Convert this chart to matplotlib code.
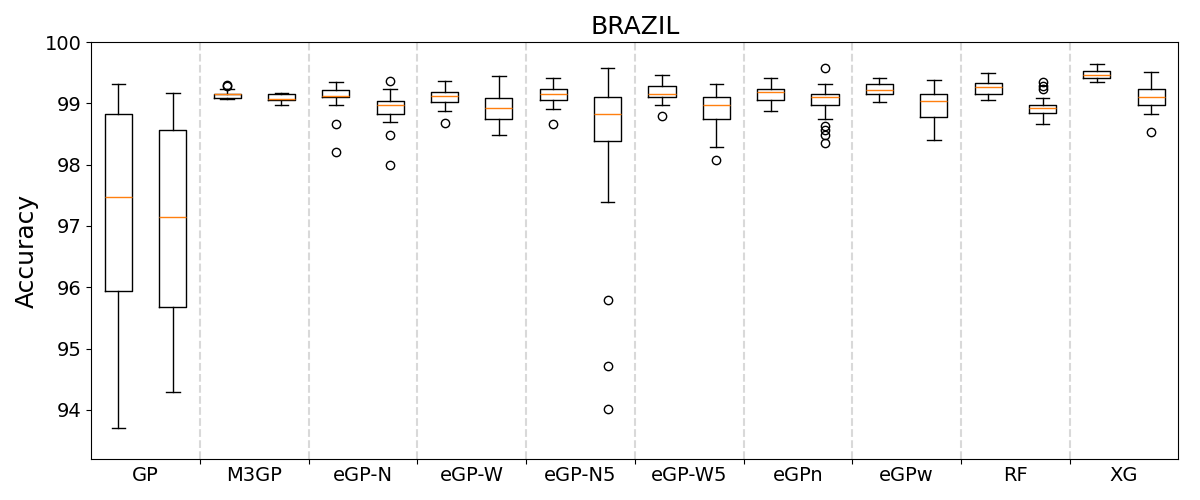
import matplotlib
matplotlib.use('Agg')
import matplotlib.pyplot as plt

# Grupos (dois boxplots por método)
methods = ['GP', 'M3GP', 'eGP-N', 'eGP-W', 'eGP-N5', 'eGP-W5', 'eGPn', 'eGPw', 'RF', 'XG']

# Estatísticas, na ordem dos 20 boxplots
whislo = [93.70, 94.30, 99.07, 98.97, 98.98, 98.69, 98.87, 98.48, 98.90, 97.39,
          98.97, 98.28, 98.87, 98.75, 99.02, 98.41, 99.05, 98.67, 99.34, 98.82]
q1 = [95.94, 95.68, 99.09, 99.05, 99.11, 98.83, 99.02, 98.75, 99.05, 98.38,
      99.11, 98.75, 99.05, 98.97, 99.15, 98.77, 99.16, 98.84, 99.42, 98.97]
med = [97.47, 97.14, 99.15, 99.07, 99.12, 98.97, 99.12, 98.93, 99.15, 98.82,
       99.16, 98.97, 99.18, 99.10, 99.22, 99.03, 99.26, 98.92, 99.47, 99.10]
q3 = [98.83, 98.56, 99.16, 99.15, 99.21, 99.03, 99.19, 99.08, 99.23, 99.10,
      99.28, 99.10, 99.23, 99.16, 99.31, 99.16, 99.33, 98.98, 99.52, 99.23]
whishi = [99.31, 99.17, 99.24, 99.17, 99.34, 99.23, 99.37, 99.45, 99.41, 99.57,
          99.46, 99.31, 99.41, 99.31, 99.42, 99.38, 99.49, 99.08, 99.64, 99.51]
fliers = [[], [], [99.30, 99.29], [], [98.67, 98.20], [99.37, 98.48, 98.00],
          [98.68], [], [98.67], [95.80, 94.71, 94.02],
          [98.79], [98.07], [], [99.57, 98.63, 98.57, 98.49, 98.35],
          [], [], [], [99.35, 99.29, 99.24], [], [98.54]]

stats = []
for i in range(len(med)):
    stats.append({'whislo': whislo[i], 'q1': q1[i], 'med': med[i], 'q3': q3[i],
                  'whishi': whishi[i], 'fliers': fliers[i]})

fig, ax = plt.subplots(figsize=(12, 5), dpi=100)
fig.subplots_adjust(left=0.076, right=0.982, top=0.916, bottom=0.082)

positions = list(range(1, len(stats) + 1))
ax.bxp(stats, positions=positions, showfliers=True)

# Separadores entre métodos
seps = [2.5 + 2 * k for k in range(len(methods) - 1)]
for s in seps:
    ax.axvline(s, color='#d9d9d9', linestyle='--', linewidth=1.5, zorder=0)

ax.set_xlim(0.5, len(stats) + 0.5)
ax.set_ylim(93.2, 100)
ax.set_xticks(seps)
ax.set_xticklabels([''] * len(seps))
ax.set_xticks([1.5 + 2 * k for k in range(len(methods))], minor=True)
ax.set_xticklabels(methods, minor=True)
ax.tick_params(axis='x', which='minor', length=0, labelsize=14, pad=5)
ax.tick_params(axis='y', labelsize=14)
ax.set_yticks([94, 95, 96, 97, 98, 99, 100])

ax.set_title('BRAZIL', fontsize=18)
ax.set_ylabel('Accuracy', fontsize=18)

fig.savefig('out.png')
